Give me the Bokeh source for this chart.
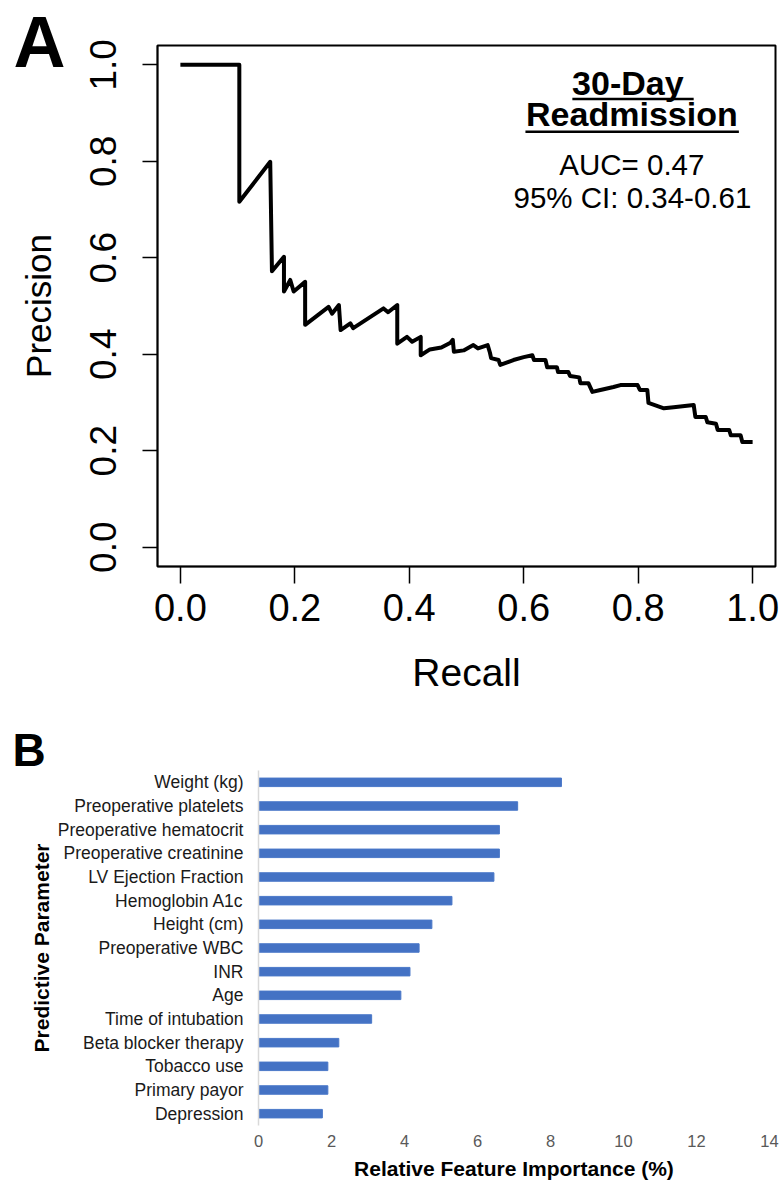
from bokeh.plotting import figure
from bokeh.models import Range1d, FactorRange, FixedTicker, ColumnDataSource, NumeralTickFormatter
from bokeh.embed import file_html
from bokeh.resources import INLINE
from bokeh.core.properties import value

# ---------------- Panel A data: precision-recall curve ----------------
recall = [0.000, 0.103, 0.103, 0.157, 0.160, 0.181, 0.181, 0.192, 0.198, 0.218,
          0.218, 0.259, 0.265, 0.277, 0.280, 0.297, 0.302, 0.355, 0.363, 0.379,
          0.379, 0.396, 0.405, 0.420, 0.420, 0.436, 0.456, 0.472, 0.476, 0.478,
          0.495, 0.512, 0.520, 0.537, 0.541, 0.543, 0.556, 0.559, 0.582, 0.600,
          0.615, 0.618, 0.638, 0.641, 0.658, 0.660, 0.678, 0.681, 0.697, 0.699,
          0.713, 0.720, 0.734, 0.757, 0.769, 0.799, 0.803, 0.816, 0.818, 0.845,
          0.862, 0.897, 0.900, 0.918, 0.921, 0.936, 0.939, 0.959, 0.962, 0.979,
          0.982, 1.000]
precision = [1.000, 1.000, 0.716, 0.799, 0.572, 0.602, 0.530, 0.554, 0.530, 0.550,
             0.461, 0.498, 0.484, 0.502, 0.450, 0.464, 0.454, 0.495, 0.487, 0.502,
             0.422, 0.436, 0.426, 0.436, 0.398, 0.410, 0.414, 0.424, 0.430, 0.405,
             0.408, 0.419, 0.412, 0.419, 0.403, 0.392, 0.388, 0.378, 0.388, 0.394,
             0.398, 0.388, 0.388, 0.373, 0.373, 0.363, 0.363, 0.355, 0.352, 0.340,
             0.340, 0.322, 0.326, 0.332, 0.336, 0.336, 0.326, 0.326, 0.299, 0.288,
             0.290, 0.295, 0.270, 0.270, 0.259, 0.256, 0.243, 0.243, 0.232, 0.232,
             0.218, 0.218]
pr_ticks = [0.0, 0.2, 0.4, 0.6, 0.8, 1.0]
title_lines = ["30-Day", "Readmission"]
stat_lines = ["AUC= 0.47", "95% CI: 0.34-0.61"]

# ---------------- Panel B data: feature importance ----------------
params = ["Weight (kg)", "Preoperative platelets", "Preoperative hematocrit",
          "Preoperative creatinine", "LV Ejection Fraction", "Hemoglobin A1c",
          "Height (cm)", "Preoperative WBC", "INR", "Age", "Time of intubation",
          "Beta blocker therapy", "Tobacco use", "Primary payor", "Depression"]
importance = [8.3, 7.1, 6.6, 6.6, 6.45, 5.3, 4.75, 4.4, 4.15, 3.9, 3.1, 2.2, 1.9, 1.9, 1.75]
imp_ticks = [0, 2, 4, 6, 8, 10, 12, 14]

FONT = "Liberation Sans"

# ================= Panel A =================
p1 = figure(width=783, height=710, x_range=Range1d(-0.04, 1.04), y_range=Range1d(-0.04, 1.04),
            output_backend="svg", toolbar_location=None,
            min_border_left=157, min_border_right=8, min_border_top=45, min_border_bottom=144)
p1.background_fill_color = "white"
p1.border_fill_color = "white"
p1.outline_line_color = "black"
p1.outline_line_width = 2
p1.xgrid.visible = False
p1.ygrid.visible = False

# panel letter "A" as the plot title
p1.title.text = "A"
p1.title.align = "left"
p1.title.vertical_align = "top"
p1.title.offset = -144
p1.title.standoff = -76
p1.title.text_font = FONT
p1.title.text_font_style = "bold"
p1.title.text_font_size = "72px"
p1.title.text_color = "black"

p1.line(recall, precision, line_color="black", line_width=4, line_join="round")

for ax in (p1.xaxis[0], p1.yaxis[0]):
    ax.ticker = FixedTicker(ticks=pr_ticks)
    ax.formatter = NumeralTickFormatter(format="0.0")
    ax.axis_line_color = "black"
    ax.axis_line_width = 1.5
    ax.major_tick_line_color = "black"
    ax.major_tick_line_width = 1.5
    ax.major_tick_in = 0
    ax.minor_tick_line_color = None
    ax.major_label_text_font = FONT
    ax.major_label_text_color = "black"
    ax.axis_label_text_font = FONT
    ax.axis_label_text_font_style = "normal"
    ax.axis_label_text_color = "black"

p1.xaxis[0].major_tick_out = 17
p1.xaxis[0].major_label_text_font_size = "38px"
p1.xaxis[0].major_label_standoff = 10
p1.xaxis[0].axis_label = "Recall"
p1.xaxis[0].axis_label_text_font_size = "39px"
p1.xaxis[0].axis_label_standoff = 27

p1.yaxis[0].major_tick_out = 15
p1.yaxis[0].major_label_orientation = "vertical"
p1.yaxis[0].major_label_text_font_size = "37px"
p1.yaxis[0].major_label_standoff = 26
p1.yaxis[0].axis_label = "Precision"
p1.yaxis[0].axis_label_text_font_size = "35px"
p1.yaxis[0].axis_label_standoff = 30

txt_src = ColumnDataSource(dict(x=[0.782, 0.789], y=[0.963, 0.897], t=title_lines))
p1.text(x="x", y="y", text="t", source=txt_src, text_font=value(FONT), text_font_style="bold",
        text_font_size="34px", text_align="center", text_baseline="alphabetic", text_color="black")
p1.segment(x0=[0.685, 0.603], y0=[0.929, 0.861], x1=[0.897, 0.976], y1=[0.929, 0.861],
           line_color="black", line_width=2.5)
st_src = ColumnDataSource(dict(x=[0.789, 0.790], y=[0.793, 0.724], t=stat_lines))
p1.text(x="x", y="y", text="t", source=st_src, text_font=value(FONT), text_font_style="normal",
        text_font_size="29.5px", text_align="center", text_baseline="alphabetic", text_color="black")

# ================= Panel B =================
p2 = figure(width=783, height=476, x_range=Range1d(0, 14), y_range=FactorRange(factors=params[::-1]),
            output_backend="svg", toolbar_location=None,
            min_border_left=258, min_border_right=14, min_border_top=60, min_border_bottom=61)
p2.background_fill_color = "white"
p2.border_fill_color = "white"
p2.outline_line_color = None
p2.xgrid.visible = False
p2.ygrid.visible = False
p2.y_range.range_padding = 0

p2.title.text = "B"
p2.title.align = "left"
p2.title.vertical_align = "top"
p2.title.offset = -246
p2.title.standoff = -14
p2.title.text_font = FONT
p2.title.text_font_style = "bold"
p2.title.text_font_size = "46px"
p2.title.text_color = "black"

p2.hbar(y=params, left=0, right=importance, height=0.36, fill_color="#4472C4", line_color="#4a78c8")

xa = p2.xaxis[0]
xa.ticker = FixedTicker(ticks=imp_ticks)
xa.axis_line_color = None
xa.major_tick_line_color = None
xa.minor_tick_line_color = None
xa.major_tick_out = 0
xa.major_tick_in = 0
xa.major_label_text_font = FONT
xa.major_label_text_font_size = "16.5px"
xa.major_label_text_color = "#595959"
xa.major_label_standoff = 9
xa.axis_label = "Relative Feature Importance (%)"
xa.axis_label_text_font = FONT
xa.axis_label_text_font_style = "bold"
xa.axis_label_text_font_size = "21px"
xa.axis_label_text_color = "black"
xa.axis_label_standoff = 7

ya = p2.yaxis[0]
ya.axis_line_color = "#d9d9d9"
ya.axis_line_width = 1.5
ya.major_tick_line_color = None
ya.minor_tick_line_color = None
ya.major_tick_out = 0
ya.major_tick_in = 0
ya.major_label_text_font = FONT
ya.major_label_text_font_size = "17.5px"
ya.major_label_text_color = "#1a1a1a"
ya.major_label_standoff = 15
ya.axis_label = "Predictive Parameter"
ya.axis_label_text_font = FONT
ya.axis_label_text_font_style = "bold"
ya.axis_label_text_font_size = "21px"
ya.axis_label_text_color = "black"
ya.axis_label_standoff = 2

open("out.html", "w").write(file_html([p1, p2], INLINE))
